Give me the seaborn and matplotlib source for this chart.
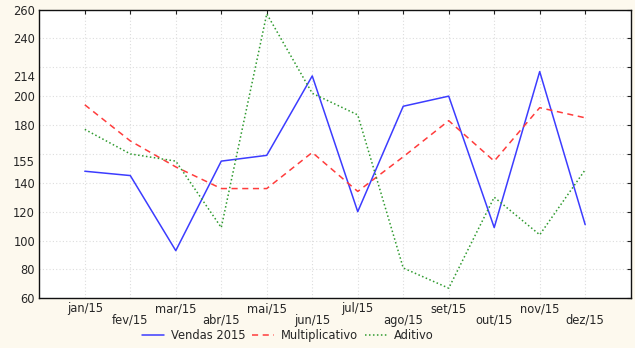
import matplotlib
matplotlib.use("Agg")
import matplotlib.pyplot as plt
import pandas as pd
import seaborn as sns

# Monthly series for 2015
months = ["jan/15", "fev/15", "mar/15", "abr/15", "mai/15", "jun/15",
          "jul/15", "ago/15", "set/15", "out/15", "nov/15", "dez/15"]
vendas = [148, 145, 93, 155, 159, 214, 120, 193, 200, 109, 217, 111]
multiplicativo = [194, 169, 151, 136, 136, 161, 134, 158, 183, 155, 192, 185]
aditivo = [177, 160, 155, 109, 257, 202, 187, 81, 67, 130, 104, 149]

# Y axis: gridded ticks every 20, two of them relabelled at their own values
y_ticks = [60, 80, 100, 120, 140, 160, 180, 200, 220, 240, 260]
y_tick_labels = ["60", "80", "100", "120", "140", "", "180", "200", "", "240", "260"]
y_extra_ticks = [155, 214]
y_extra_labels = ["155", "214"]

sns.set_theme(style="white")
plt.rcParams["font.family"] = ["DejaVu Sans"]
plt.rcParams["font.size"] = 8.3

df = pd.DataFrame({
    "pos": list(range(1, len(months) + 1)),
    "mes": months,
    "Vendas 2015": vendas,
    "Multiplicativo": multiplicativo,
    "Aditivo": aditivo,
})

bg = "#fdf9ee"
fig = plt.figure(figsize=(6.35, 3.48), dpi=100, facecolor=bg)
ax = fig.add_axes([0.0619, 0.1428, 0.9313, 0.8299])
ax.set_facecolor("white")

sns.lineplot(data=df, x="pos", y="Vendas 2015", ax=ax, color="#3c3cff",
             linewidth=1.1, label="Vendas 2015")
sns.lineplot(data=df, x="pos", y="Multiplicativo", ax=ax, color="#ff3c3c",
             linewidth=1.1, linestyle=(0, (4, 3)), label="Multiplicativo")
sns.lineplot(data=df, x="pos", y="Aditivo", ax=ax, color="#2f9a2f",
             linewidth=1.1, linestyle=(0, (1, 1.6)), label="Aditivo")

ax.set_xlim(0, 13)
ax.set_ylim(60, 260)
ax.set_xlabel("")
ax.set_ylabel("")

ax.set_xticks(df["pos"])
ax.set_xticklabels(df["mes"])
ax.set_yticks(y_ticks)
ax.set_yticklabels(y_tick_labels)
ax.set_yticks(y_extra_ticks, minor=True)
ax.set_yticklabels(y_extra_labels, minor=True)

ax.grid(True, which="major", color="#dddddd", linestyle=(0, (1, 2)), linewidth=0.8)
ax.tick_params(which="major", direction="in", length=3, width=0.8, color="#222222",
               top=True, right=True, labelsize=8.3, pad=3)
ax.tick_params(which="minor", left=True, length=0, labelsize=8.3, pad=3)

for spine in ax.spines.values():
    spine.set_visible(True)
    spine.set_color("#111111")
    spine.set_linewidth(1.0)

# Stagger month labels on two rows
for i, tick in enumerate(ax.xaxis.get_major_ticks()):
    tick.set_pad(3 + (8.2 if i % 2 else 0))

handles, labels = ax.get_legend_handles_labels()
ax.get_legend().remove()
fig.legend(handles, labels, loc="center", bbox_to_anchor=(0.453, 0.035),
           ncol=3, frameon=False, fontsize=8.3, handlelength=1.9,
           handletextpad=0.6, columnspacing=0.6)

fig.savefig("out.png", dpi=100, facecolor=bg)
